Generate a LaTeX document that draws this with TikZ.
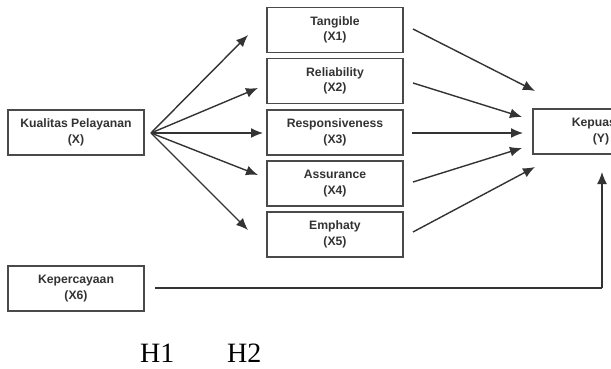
\documentclass[tikz,border=0pt]{standalone}
\usepackage{fontspec}
\setmainfont{Liberation Serif}
\newfontfamily\boxfont{Liberation Sans}
\usetikzlibrary{arrows.meta}
\definecolor{boxline}{HTML}{4A4A4A}
\definecolor{arrline}{HTML}{333333}
\definecolor{txt}{HTML}{333333}
\tikzset{
  varbox/.style={draw=boxline, line width=1.6pt, fill=white, minimum width=136pt, minimum height=45pt,
    inner sep=0pt, align=center, text=txt, font=\boxfont\bfseries\fontsize{12.2}{15.5}\selectfont},
  link/.style={draw=arrline, line width=1.4pt, -{Latex[length=12pt,width=10pt]}},
  plain/.style={draw=arrline, line width=1.4pt},
  hlabel/.style={font=\fontsize{28}{30}\selectfont, inner sep=0pt, anchor=base west}
}
\begin{document}
\begin{tikzpicture}[x=1pt,y=-1pt]
\useasboundingbox (0,0) rectangle (611,369);
\clip (0,0) rectangle (611,369);
\fill[white] (0,0) rectangle (611,369);
% nodes
\node[varbox] (X)  at (76,132.5) {Kualitas Pelayanan\\(X)};
\node[varbox] (X1) at (335,30)   {Tangible\\(X1)};
\node[varbox] (X2) at (335,81)   {Reliability\\(X2)};
\node[varbox] (X3) at (335,132.5){Responsiveness\\(X3)};
\node[varbox] (X4) at (335,183.5){Assurance\\(X4)};
\node[varbox] (X5) at (335,234.5){Emphaty\\(X5)};
\node[varbox] (X6) at (76,288.5) {Kepercayaan\\(X6)};
\node[varbox] (Y)  at (601,131.5){Kepuasan\\(Y)};
% free ends
\coordinate (s)  at (151,133);
\coordinate (t1) at (248,35);
\coordinate (t2) at (258,88);
\coordinate (t3) at (263,133);
\coordinate (t4) at (258,175);
\coordinate (t5) at (248,230);
\coordinate (o1) at (413,29);
\coordinate (o2) at (413,83);
\coordinate (o3) at (412,133);
\coordinate (o4) at (413,182);
\coordinate (o5) at (413,232);
\coordinate (e1) at (535,91);
\coordinate (e2) at (522,117);
\coordinate (e3) at (523,133);
\coordinate (e4) at (522,148);
\coordinate (e5) at (535,167);
\coordinate (k0) at (155,288);
\coordinate (k1) at (602,288);
\coordinate (k2) at (602,172);
% connectors
\draw[link] (s) -- (t1);
\draw[link] (s) -- (t2);
\draw[link] (s) -- (t3);
\draw[link] (s) -- (t4);
\draw[link] (s) -- (t5);
\draw[link] (o1) -- (e1);
\draw[link] (o2) -- (e2);
\draw[link] (o3) -- (e3);
\draw[link] (o4) -- (e4);
\draw[link] (o5) -- (e5);
\draw[plain] (k0) -- (k1);
\draw[link] (k1) -- (k2);
% labels
\node[hlabel] (h1) at (140,362) {H1};
\node[hlabel] (h2) at (227,362) {H2};
\end{tikzpicture}
\end{document}
